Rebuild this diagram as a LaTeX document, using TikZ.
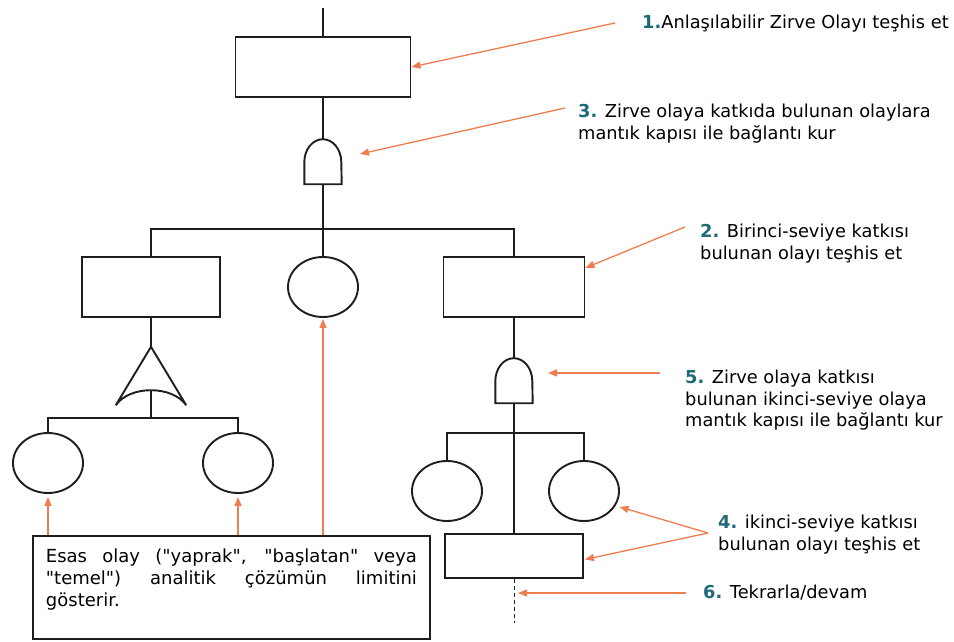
\documentclass[tikz,border=0pt]{standalone}
\usepackage{fontspec}
\setmainfont{DejaVu Sans}[Ligatures=TeXOff]
\usetikzlibrary{shapes.geometric,arrows.meta}
\definecolor{arrowc}{RGB}{238,125,80}
\definecolor{numc}{RGB}{30,105,120}
\definecolor{linec}{RGB}{30,30,30}
\newcommand\stepno[1]{\textcolor{numc}{\bfseries #1}}

\begin{document}
\begin{tikzpicture}[x=1pt,y=1pt,
  ln/.style={draw=linec,line width=1.9pt},
  evbox/.style={rectangle,ln,inner sep=0pt},
  basic/.style={ellipse,ln,inner sep=0pt,minimum width=70pt,minimum height=60pt},
  gatebox/.style={rectangle,inner sep=0pt,minimum width=37pt,minimum height=45pt},
  orbox/.style={rectangle,inner sep=0pt,minimum width=70pt,minimum height=58pt},
  pointer/.style={draw=arrowc,line width=1.3pt,-{Triangle[length=9pt,width=7pt]}},
  callout/.style={anchor=north west,inner sep=0pt,align=left,
    font=\fontsize{17.8}{21.5}\selectfont},
  contline/.style={draw=linec,line width=1pt,dash pattern=on 4pt off 3pt}
]
\useasboundingbox (0,0) rectangle (954,-642);

% events
\node[evbox,minimum width=175pt,minimum height=60pt] (top) at (323,-67) {};
\node[gatebox] (g1) at (323,-161.5) {};
\node[evbox,minimum width=138pt,minimum height=60pt] (lbox) at (151,-287) {};
\node[basic] (mcirc) at (323,-287) {};
\node[evbox,minimum width=141pt,minimum height=60pt] (rbox) at (514,-287) {};
\node[orbox] (org) at (151,-376) {};
\node[basic] (c1) at (48,-463) {};
\node[basic] (c2) at (238,-463) {};
\node[gatebox] (g2) at (514,-380.5) {};
\node[basic] (c3) at (447,-491) {};
\node[basic] (c4) at (584,-491) {};
\node[evbox,minimum width=138pt,minimum height=44pt] (bbox) at (514,-556) {};

% note on basic events
\node[evbox,anchor=north west,minimum width=397pt,minimum height=103pt,inner xsep=13pt,inner ysep=0pt]
  (note) at (32,-535)
  {\parbox[t][103pt][t]{371pt}{\fontsize{18}{22}\selectfont\vspace*{12.5pt}%
   \makebox[371pt][s]{Esas olay ("yaprak", "başlatan" veya}\\
   \makebox[371pt][s]{"temel") analitik çözümün limitini}\\
   gösterir.}};

% gate symbols
\draw[ln,fill=white] (g1.south west) -- ([yshift=22pt]g1.south west)
  arc[start angle=180,end angle=0,x radius=18.5pt,y radius=23pt] -- (g1.south east) -- cycle;
\draw[ln,fill=white] (g2.south west) -- ([yshift=22pt]g2.south west)
  arc[start angle=180,end angle=0,x radius=18.5pt,y radius=23pt] -- (g2.south east) -- cycle;
\draw[ln] (org.north) -- (org.south west)
  .. controls ([shift={(14pt,20pt)}]org.south west) and ([shift={(-14pt,20pt)}]org.south east) .. (org.south east)
  -- cycle;

% junction points
\coordinate (topin) at (323,-8);
\coordinate (j1) at (323,-229);
\coordinate (orout) at ([yshift=15pt]org.south);
\coordinate (j2) at (151,-418);
\coordinate (j3) at (514,-433);
\coordinate (dend) at (514,-623);

% tree connections
\draw[ln] (topin) -- (top.north);
\draw[ln] (top.south) -- (g1.north);
\draw[ln] (g1.south) -- (j1) -- (mcirc.north);
\draw[ln] (lbox.north) |- (j1) -| (rbox.north);
\draw[ln] (lbox.south) -- (org.north);
\draw[ln] (orout) -- (j2);
\draw[ln] (c1.north) |- (j2) -| (c2.north);
\draw[ln] (rbox.south) -- (g2.north);
\draw[ln] (g2.south) -- (j3) -- (bbox.north);
\draw[ln] (c3.north) |- (j3) -| (c4.north);
\draw[contline] (bbox.south) -- (dend);

% step labels
\node[callout] (t1) at (642,-15) {\stepno{1.}Anlaşılabilir Zirve Olayı teşhis et};
\node[callout] (t3) at (578,-104) {\stepno{3.} Zirve olaya katkıda bulunan olaylara\\mantık kapısı ile bağlantı kur};
\node[callout] (t2) at (700,-224) {\stepno{2.} Birinci-seviye katkısı\\bulunan olayı teşhis et};
\node[callout] (t5) at (685,-370) {\stepno{5.} Zirve olaya katkısı\\bulunan ikinci-seviye olaya\\mantık kapısı ile bağlantı kur};
\node[callout] (t4) at (718,-515) {\stepno{4.} ikinci-seviye katkısı\\bulunan olayı teşhis et};
\node[callout] (t6) at (703,-585) {\stepno{6.} Tekrarla/devam};

% pointer arrows
\coordinate (s1) at (615,-23);
\coordinate (s3) at (565,-108);
\coordinate (tip3) at (360,-154);
\coordinate (s2) at (685,-227);
\coordinate (s5) at (660,-373);
\coordinate (tip5) at (548,-373);
\coordinate (v4) at (708,-533);
\coordinate (s6) at (686,-593);
\coordinate (tip6) at (518,-593);

\draw[pointer] (s1) -- (top.east);
\draw[pointer] (s3) -- (tip3);
\draw[pointer] (s2) -- (rbox.15);
\draw[pointer] (s5) -- (tip5);
\draw[pointer,shorten >=4pt] (v4) -- (c4.-25);
\draw[pointer,shorten >=1pt] (v4) -- (bbox.-3);
\draw[pointer] (s6) -- (tip6);
\draw[pointer,shorten >=3pt] (c1.south |- note.north) -- (c1.south);
\draw[pointer,shorten >=3pt] (c2.south |- note.north) -- (c2.south);
\draw[pointer,shorten >=1pt] (mcirc.south |- note.north) -- (mcirc.south);
\end{tikzpicture}
\end{document}
